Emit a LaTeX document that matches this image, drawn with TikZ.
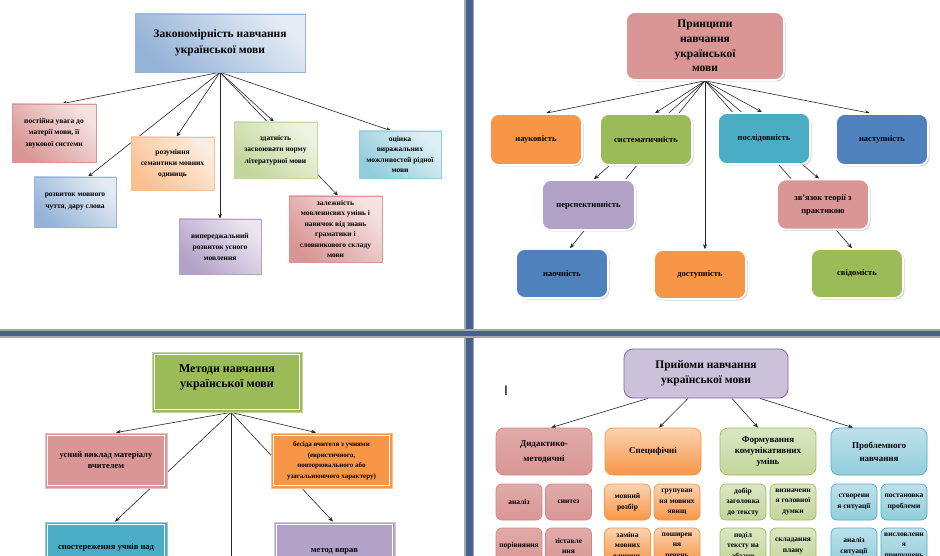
\documentclass[tikz,border=0pt]{standalone}
\usepackage{fontspec}
\setmainfont{Liberation Serif}
\newfontfamily\cursorfont{Liberation Sans}
\usetikzlibrary{arrows.meta,shadows,calc}
\pgfdeclarelayer{bg}
\pgfsetlayers{bg,main}
\definecolor{blueD}{HTML}{95B3D7}\definecolor{blueL}{HTML}{E3EBF5}
\definecolor{pinkD}{HTML}{D99694}\definecolor{pinkL}{HTML}{F5E2E1}
\definecolor{orD}{HTML}{FAC090}\definecolor{orL}{HTML}{FDEDE0}
\definecolor{purD}{HTML}{B2A2C7}\definecolor{purL}{HTML}{EAE5F0}
\definecolor{grD}{HTML}{C3D69B}\definecolor{grL}{HTML}{EEF4E2}
\definecolor{aqD}{HTML}{92CDDC}\definecolor{aqL}{HTML}{DFF0F5}
\definecolor{acRed}{HTML}{C0504D}\definecolor{acOr}{HTML}{F79646}
\definecolor{acGr}{HTML}{9BBB59}\definecolor{acAq}{HTML}{4BACC6}
\definecolor{acBl}{HTML}{4F81BD}\definecolor{acPu}{HTML}{8064A2}
\definecolor{acPk}{HTML}{D99694}\definecolor{acLi}{HTML}{B2A2C7}
\definecolor{titPu}{HTML}{CCC1DA}
\definecolor{sepblue}{HTML}{44628F}
\tikzset{
  every node/.style={align=center},
  fnt/.style 2 args={font=\fontsize{#1}{#2}\selectfont\bfseries},
  tlbox/.style 2 args={rectangle, draw=#1, line width=0.6pt, top color=#2, bottom color=#1,
    shading angle=-45, inner sep=1pt,
    drop shadow={shadow xshift=1.2pt, shadow yshift=-1.2pt, fill=black!30, opacity=0.5}},
  trbox/.style={rounded corners=9pt, draw=white, line width=1.6pt, fill=#1, inner sep=1pt,
    drop shadow={shadow xshift=1.5pt, shadow yshift=-1.5pt, fill=black!35, opacity=0.5}},
  blbox/.style={rectangle, fill=#1, draw=#1!60!white, line width=0.8pt, inner sep=1pt,
    path picture={\draw[white,line width=1pt]
      ([shift={(2.5pt,2.5pt)}]path picture bounding box.south west) rectangle
      ([shift={(-2.5pt,-2.5pt)}]path picture bounding box.north east);}},
  brbox/.style n args={3}{rounded corners=6pt, draw=#1, line width=0.7pt,
    top color=#2, bottom color=#3, inner sep=0.5pt},
  dm/.style={brbox={acRed!70!white}{pinkD!80!white}{pinkD}},
  sf/.style={brbox={acOr}{orD!70!white}{acOr}},
  fk/.style={brbox={acGr}{grD!60!white}{grD}},
  pn/.style={brbox={acAq}{aqD!60!white}{aqD}},
  sub/.style={minimum width=46pt, minimum height=36pt, fnt={7.5}{10.5}},
  arr/.style={draw=black!85, line width=0.6pt, -{Stealth[length=5pt,width=4pt]}},
  ln/.style={draw=black!85, line width=0.6pt}
}
\begin{document}
\begin{tikzpicture}[x=1pt,y=-1pt]
\useasboundingbox (0,0) rectangle (940,556);
\clip (0,0) rectangle (940,556);

% ---------- top-left ----------
\node[tlbox={blueD}{blueL}, minimum width=170pt, minimum height=58pt, fnt={11.5}{16}] (tlT) at (220,43) {Закономірність навчання\\української мови};
\node[tlbox={pinkD}{pinkL}, minimum width=84pt, minimum height=58pt, fnt={7.5}{11.5}] (b1) at (54,133) {постійна увага до\\матерії мови, її\\звукової системи};
\node[tlbox={orD}{orL}, minimum width=83pt, minimum height=53pt, fnt={7.5}{11}] (b2) at (172.5,163.5) {розуміння\\семантики мовних\\одиниць};
\node[tlbox={blueD}{blueL}, minimum width=82pt, minimum height=50pt, fnt={7.5}{12}] (b3) at (75,202) {розвиток мовного\\чуття, дару слова};
\node[tlbox={purD}{purL}, minimum width=82pt, minimum height=55pt, fnt={7.5}{11}] (b4) at (220,246.5) {випереджальний\\розвиток усного\\мовлення};
\node[tlbox={grD}{grL}, minimum width=83pt, minimum height=56pt, fnt={7.5}{11.5}] (b5) at (275.5,150) {здатність\\засвоювати норму\\літературної мови};
\node[tlbox={pinkD}{pinkL}, minimum width=93pt, minimum height=66pt, fnt={7.5}{10.4}] (b6) at (335.5,229) {залежність\\мовленнєвих умінь і\\навичок від знань\\граматики і\\словникового складу\\мови};
\node[tlbox={aqD}{aqL}, minimum width=82pt, minimum height=47pt, fnt={7.5}{10.3}] (b7) at (400,154.5) {оцінка\\виражальних\\можливостей рідної\\мови};

% ---------- top-right ----------
\node[trbox=acPk, minimum width=158pt, minimum height=68pt, fnt={11.5}{14.7}] (trT) at (705,46) {Принципи\\навчання\\української\\мови};
\node[trbox=acOr, minimum width=92pt, minimum height=51pt, fnt={8.5}{12}] (nauk) at (536,139.5) {науковість};
\node[trbox=acGr, minimum width=92pt, minimum height=51pt, fnt={8.5}{12}] (syst) at (646,139.5) {систематичність};
\node[trbox=acAq, minimum width=92pt, minimum height=51pt, fnt={8.5}{12}] (posl) at (764,138.5) {послідовність};
\node[trbox=acBl, minimum width=92pt, minimum height=51pt, fnt={8.5}{12}] (nast) at (882,139.5) {наступність};
\node[trbox=acLi, minimum width=93pt, minimum height=50pt, fnt={8.5}{12}] (persp) at (588.5,205) {перспективність};
\node[trbox=acPk, minimum width=92pt, minimum height=50pt, fnt={8.5}{13}] (zv) at (823,204.5) {зв'язок теорії з\\практикою};
\node[trbox=acBl, minimum width=92pt, minimum height=49pt, fnt={8.5}{12}] (nao) at (562,273.5) {наочність};
\node[trbox=acOr, minimum width=92pt, minimum height=49pt, fnt={8.5}{12}] (dost) at (700,274.5) {доступність};
\node[trbox=acGr, minimum width=92pt, minimum height=49pt, fnt={8.5}{12}] (svid) at (857,273.5) {свідомість};

% ---------- bottom-left ----------
\node[blbox=acGr, minimum width=150pt, minimum height=60pt, fnt={12}{15}, text depth=11pt] (mT) at (227,382) {Методи навчання\\української мови};
\node[blbox=acPk, minimum width=122pt, minimum height=55pt, fnt={8.5}{11}] (us) at (106,460.5) {усний виклад матеріалу\\вчителем};
\node[blbox=acOr, minimum width=121pt, minimum height=55pt, fnt={7}{10.5}] (bes) at (331.5,460.5) {бесіда вчителя з учнями\\(евристичного,\\повторювального або\\узагальнюючого характеру)};
\node[blbox=acAq, minimum width=122pt, minimum height=50pt, fnt={8.5}{11}] (sp) at (106,547) {спостереження учнів над};
\node[blbox=acLi, minimum width=121pt, minimum height=58pt, fnt={8.5}{11}] (mv) at (334.5,551) {метод вправ};

% ---------- bottom-right ----------
\node[font=\cursorfont\fontsize{14}{14}\selectfont, inner sep=0pt] (cur) at (506,391) {I};
\node[rounded corners=9pt, draw=acPu, line width=0.8pt, fill=titPu, minimum width=164pt, minimum height=49pt, fnt={11.5}{15}] (pT) at (706,373.5) {Прийоми навчання\\української мови};
\node[dm, rounded corners=8pt, minimum width=96pt, minimum height=47pt, fnt={9}{15}] (c1) at (544,451.5) {Дидактико-\\методичні};
\node[sf, rounded corners=8pt, minimum width=96pt, minimum height=47pt, fnt={9}{12}] (c2) at (653,451.5) {Специфічні};
\node[fk, rounded corners=8pt, minimum width=96pt, minimum height=47pt, fnt={9}{11}] (c3) at (768,451.5) {Формування\\комунікативних\\умінь};
\node[pn, rounded corners=8pt, minimum width=96pt, minimum height=47pt, fnt={9}{13}] (c4) at (879,451.5) {Проблемного\\навчання};

\node[dm, sub] (s11) at (519,502) {аналіз};
\node[dm, sub] (s12) at (568.5,502) {синтез};
\node[sf, sub] (s13) at (627.5,502) {мовний\\розбір};
\node[sf, sub] (s14) at (677,502) {групуван\\ня мовних\\явищ};
\node[fk, sub] (s15) at (743,502) {добір\\заголовка\\до тексту};
\node[fk, sub] (s16) at (793,502) {визначенн\\я головної\\думки};
\node[pn, sub] (s17) at (854,502) {створенн\\я ситуації};
\node[pn, sub] (s18) at (904,502) {постановка\\проблеми};

\node[dm, sub] (s21) at (519,546) {порівняння};
\node[dm, sub] (s22) at (568.5,546) {зіставле\\ння};
\node[sf, sub] (s23) at (627.5,546) {заміна\\мовних\\одиниць};
\node[sf, sub] (s24) at (677,546) {поширен\\ня\\речень};
\node[fk, sub] (s25) at (743,546) {поділ\\тексту на\\абзаци};
\node[fk, sub] (s26) at (793,546) {складання\\плану};
\node[pn, sub] (s27) at (854,546) {аналіз\\ситуації};
\node[pn, sub] (s28) at (904,546) {висловленн\\я\\припущень};

\coordinate (mEnd) at (231,556);

\begin{pgfonlayer}{bg}
\fill[white] (0,0) rectangle (940,556);
\fill[black!35] (464,0) rectangle (474,556);
\fill[sepblue] (465.5,0) rectangle (472.5,556);
\fill[black!35] (0,329.3) rectangle (940,337.5);
\fill[sepblue] (0,330.6) rectangle (940,336.2);
% top-left
\draw[arr] (tlT.south) -- ([xshift=8pt]b1.north);
\draw[arr] (tlT.south) -- ([xshift=4pt]b2.north);
\draw[arr] (tlT.south) -- ([xshift=13pt]b3.north);
\draw[arr] (tlT.south) -- (b4.north);
\draw[arr] (tlT.south) -- ([xshift=-1.5pt]b5.north);
\draw[arr] (tlT.south) -- ([xshift=2.5pt]b6.north);
\draw[arr] (tlT.south) -- ([xshift=-9pt]b7.north);
% top-right
\draw[arr] (trT.south) -- ([xshift=10pt]nauk.north);
\draw[arr] (trT.south) -- ([xshift=9pt]syst.north);
\draw[arr] (trT.south) -- ([xshift=-2pt]posl.north);
\draw[arr] (trT.south) -- ([xshift=-12pt]nast.north);
\draw[arr] (trT.south) -- ([xshift=5.5pt]persp.north);
\draw[arr] (trT.south) -- ([xshift=-4pt]zv.north);
\draw[arr] (trT.south) -- ([xshift=8pt]nao.north);
\draw[arr] (trT.south) -- ([xshift=5pt]dost.north);
\draw[arr] (trT.south) -- ([xshift=-5pt]svid.north);
% bottom-left
\draw[arr] ([xshift=4pt]mT.south) -- ([xshift=10pt]us.north);
\draw[arr] ([xshift=4pt]mT.south) -- ([xshift=-15.5pt]bes.north);
\draw[arr] ([xshift=4pt]mT.south) -- ([xshift=9pt]sp.north);
\draw[arr] ([xshift=4pt]mT.south) -- ([xshift=-1.5pt]mv.north);
\draw[ln] ([xshift=4pt]mT.south) -- (mEnd);
% bottom-right
\draw[arr] ([xshift=-58pt]pT.south) -- ([xshift=7pt]c1.north);
\draw[arr] ([xshift=-18pt]pT.south) -- ([xshift=6pt]c2.north);
\draw[arr] ([xshift=26pt]pT.south) -- ([xshift=-10pt]c3.north);
\draw[arr] ([xshift=54pt]pT.south) -- ([xshift=-26pt]c4.north);
\end{pgfonlayer}
\end{tikzpicture}
\end{document}
